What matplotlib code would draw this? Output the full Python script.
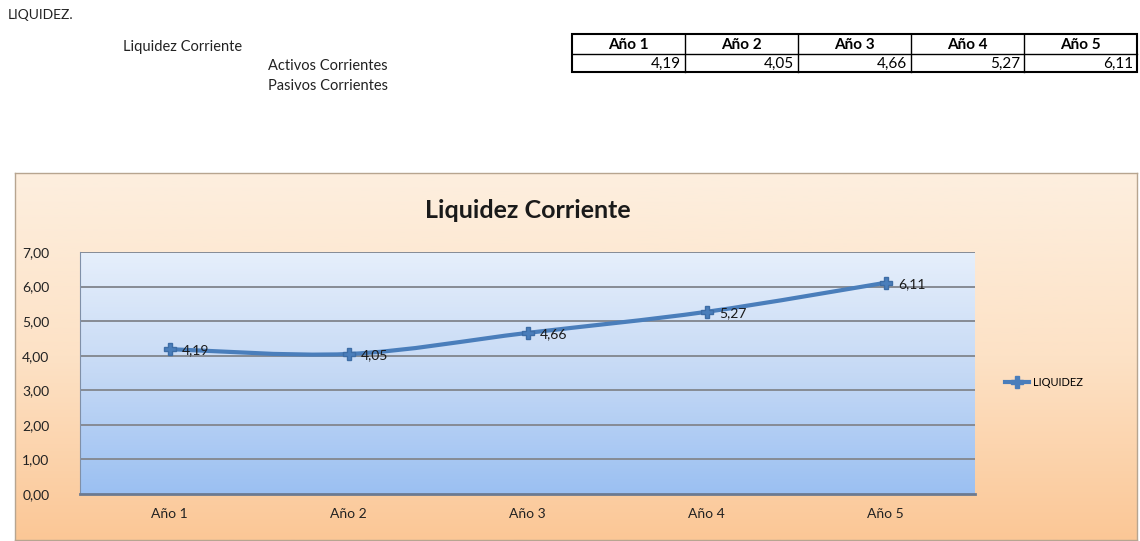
import numpy as np
import matplotlib.pyplot as plt
from matplotlib.path import Path
from matplotlib.patches import PathPatch, Rectangle
from matplotlib.colors import LinearSegmentedColormap

plt.rcParams['font.family'] = ['Lato', 'DejaVu Sans']

# data
years = ['Año 1', 'Año 2', 'Año 3', 'Año 4', 'Año 5']
liquidez = [4.19, 4.05, 4.66, 5.27, 6.11]
y_ticks = [0, 1, 2, 3, 4, 5, 6, 7]

W, H = 1140, 541
fig = plt.figure(figsize=(W / 100, H / 100), dpi=100)
fig.patch.set_facecolor('white')


def fbox(x0, y0, x1, y1):
    # pixel box (top-left origin) -> figure fraction rect
    return [x0 / W, 1 - y1 / H, (x1 - x0) / W, (y1 - y0) / H]


def fmt(v):
    return f'{v:.2f}'.replace('.', ',')


# sheet overlay in pixel coordinates
sheet = fig.add_axes([0, 0, 1, 1], zorder=0)
sheet.set_xlim(0, W)
sheet.set_ylim(H, 0)
sheet.axis('off')
sheet.text(8, 15, 'LIQUIDEZ.', fontsize=10, va='center', color='#222222')
sheet.text(123, 47, 'Liquidez Corriente', fontsize=10.5, va='center', color='#222222')
sheet.text(268, 66, 'Activos Corrientes', fontsize=10.5, va='center', color='#222222')
sheet.text(268, 86, 'Pasivos Corrientes', fontsize=10.5, va='center', color='#222222')

# table
col_x = np.linspace(572, 1137, len(years) + 1)
t_top, t_mid, t_bot = 34, 54, 72
sheet.add_patch(Rectangle((col_x[0], t_top), col_x[-1] - col_x[0], t_bot - t_top,
                          fill=False, lw=1.5, ec='black'))
sheet.plot([col_x[0], col_x[-1]], [t_mid, t_mid], color='black', lw=1)
for cx in col_x[1:-1]:
    sheet.plot([cx, cx], [t_top, t_bot], color='black', lw=1)
for i, (yr, v) in enumerate(zip(years, liquidez)):
    sheet.text((col_x[i] + col_x[i + 1]) / 2, (t_top + t_mid) / 2 + 1, yr,
               fontsize=11, fontweight='bold', ha='center', va='center')
    sheet.text(col_x[i + 1] - 4, (t_mid + t_bot) / 2 + 1, fmt(v),
               fontsize=11, ha='right', va='center')

# chart area with orange gradient
chart_px = (15, 173, 1137, 540)
bg = fig.add_axes(fbox(*chart_px), zorder=1)
orange = LinearSegmentedColormap.from_list('o', ['#fdefdf', '#fde2c6', '#fbc796'])
bg.imshow(np.linspace(0, 1, 256).reshape(-1, 1), aspect='auto', cmap=orange,
          extent=[0, 1, 0, 1], origin='upper')
bg.set_xticks([])
bg.set_yticks([])
for s in bg.spines.values():
    s.set_color('#b7a590')
    s.set_linewidth(1)

fig.text((80 + 975) / 2 / W, 1 - 210 / H, 'Liquidez Corriente', fontsize=18,
         fontweight='bold', ha='center', va='center', color='#1a1a1a', zorder=5)

# plot area
ax = fig.add_axes(fbox(80, 252, 975, 494), zorder=2)
ax.patch.set_alpha(0)
blue = LinearSegmentedColormap.from_list('b', ['#e6effb', '#c5d9f5', '#9bc0f2'])
ax.imshow(np.linspace(0, 1, 256).reshape(-1, 1), aspect='auto', cmap=blue,
          extent=[-0.5, len(years) - 0.5, 0, 7], origin='upper', zorder=0)
ax.set_xlim(-0.5, len(years) - 0.5)
ax.set_ylim(0, 7)
for yv in y_ticks[1:]:
    ax.axhline(yv, color='#868b94', lw=1.4, zorder=1)
ax.set_yticks(y_ticks)
ax.set_yticklabels([fmt(v) for v in y_ticks], fontsize=10, color='#222222')
ax.set_xticks(range(len(years)))
ax.set_xticklabels(years, fontsize=10, color='#222222')
ax.tick_params(length=0, pad=10)
ax.tick_params(axis='y', pad=22)
for side in ['top', 'right']:
    ax.spines[side].set_visible(False)
ax.spines['left'].set_color('#8090a8')
ax.spines['bottom'].set_color('#6c7a90')
ax.spines['bottom'].set_linewidth(2)

# smoothed line like the spreadsheet's
xs = np.arange(len(liquidez), dtype=float)
ys = np.array(liquidez)
verts = [(xs[0], ys[0])]
codes = [Path.MOVETO]
n = len(xs)
for i in range(n - 1):
    p0 = np.array([xs[max(i - 1, 0)], ys[max(i - 1, 0)]])
    p1 = np.array([xs[i], ys[i]])
    p2 = np.array([xs[i + 1], ys[i + 1]])
    p3 = np.array([xs[min(i + 2, n - 1)], ys[min(i + 2, n - 1)]])
    c1 = p1 + (p2 - p0) / 6
    c2 = p2 - (p3 - p1) / 6
    verts += [tuple(c1), tuple(c2), tuple(p2)]
    codes += [Path.CURVE4] * 3
ax.add_patch(PathPatch(Path(verts, codes), fill=False, ec='#4a7ebb', lw=3, zorder=3))
ax.plot(xs, ys, ls='none', marker='P', ms=9, color='#4a7ebb', mec='#3d6da6', zorder=4)
for x, v in zip(xs, ys):
    ax.annotate(fmt(v), (x, v), xytext=(9, -1), textcoords='offset points',
                fontsize=10, va='center', ha='left', color='#1a1a1a', zorder=5)

# legend
fig.legend([plt.Line2D([], [], color='#4a7ebb', lw=3, marker='P', ms=8)], ['LIQUIDEZ'],
           loc='center left', bbox_to_anchor=(995 / W, 1 - 382 / H), frameon=False,
           fontsize=8, handlelength=2.2, handletextpad=0.3)

fig.savefig('out.png', dpi=100)
